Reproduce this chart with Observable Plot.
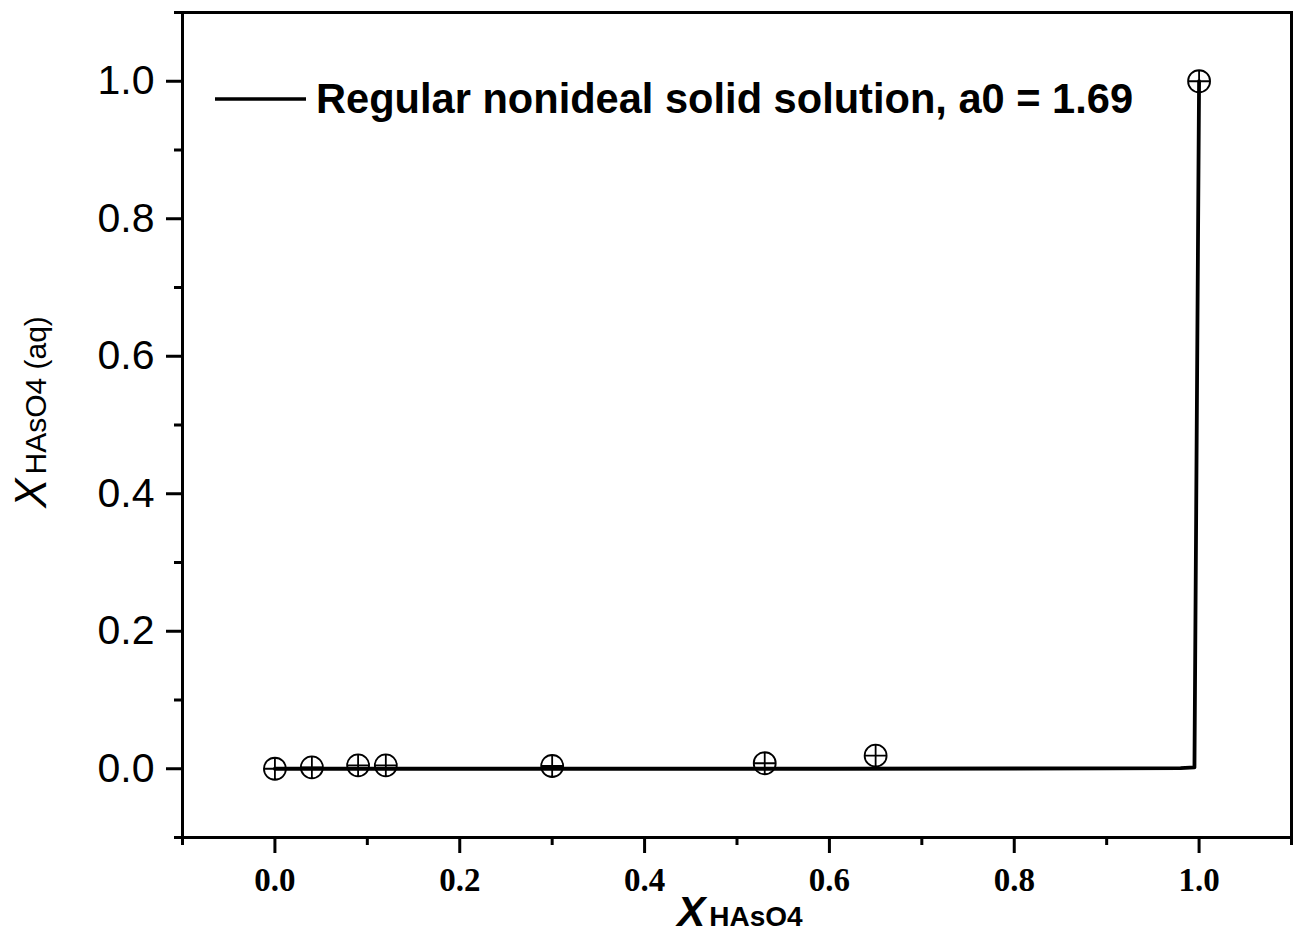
<!DOCTYPE html>
<html>
<head>
<meta charset="utf-8">
<script src="https://cdn.jsdelivr.net/npm/d3@7"></script>
<script src="https://cdn.jsdelivr.net/npm/@observablehq/plot@0.6"></script>
<style>
  html, body { margin: 0; padding: 0; background: #fff; }
  #chart { position: relative; width: 1297px; height: 934px; }
</style>
</head>
<body>
<div id="chart"></div>
<script>
// Measured points (solid vs aqueous mole fraction)
const pointX = [0, 0.04, 0.09, 0.12, 0.30, 0.53, 0.65, 1.0];
const pointY = [0, 0.002, 0.005, 0.005, 0.004, 0.008, 0.019, 1.0];

// Regular nonideal solid solution model curve
const modelX = [0, 0.3, 0.6, 0.9, 0.98, 0.995, 1.0];
const modelY = [0, 0, 0, 0.0005, 0.001, 0.002, 1.0];

const majorTicks = [0, 0.2, 0.4, 0.6, 0.8, 1.0];
const minorTicks = [-0.1, 0.1, 0.3, 0.5, 0.7, 0.9, 1.1];

const legendLabel = "Regular nonideal solid solution, a0 = 1.69";

const points = pointX.map((x, i) => ({x, y: pointY[i]}));
const model = modelX.map((x, i) => ({x, y: modelY[i]}));

// circle with a cross inside
const crossCircle = {
  draw(context, size) {
    const r = Math.sqrt(size / Math.PI);
    context.moveTo(r, 0);
    context.arc(0, 0, r, 0, 2 * Math.PI);
    context.moveTo(-r, 0);
    context.lineTo(r, 0);
    context.moveTo(0, -r);
    context.lineTo(0, r);
  }
};

const chart = Plot.plot({
  width: 1297,
  height: 934,
  marginLeft: 182,
  marginRight: 6,
  marginTop: 12,
  marginBottom: 97,
  style: {background: "white", color: "black", overflow: "visible"},
  x: {domain: [-0.1, 1.1]},
  y: {domain: [-0.1, 1.1]},
  marks: [
    Plot.axisX(majorTicks, {
      tickSize: 16, strokeWidth: 3, tickPadding: 14,
      tickFormat: d3.format(".1f"), label: null,
      fontFamily: "Liberation Serif", fontWeight: "bold", fontSize: 33
    }),
    Plot.axisX(minorTicks, {tickSize: 8, strokeWidth: 3, tickFormat: () => "", label: null}),
    Plot.axisY(majorTicks, {
      tickSize: 16, strokeWidth: 3, tickPadding: 12,
      tickFormat: d3.format(".1f"), label: null,
      fontFamily: "Liberation Sans", fontSize: 41
    }),
    Plot.axisY(minorTicks, {tickSize: 8, strokeWidth: 3, tickFormat: () => "", label: null}),
    Plot.frame({stroke: "black", strokeWidth: 3}),
    Plot.dot(points, {x: "x", y: "y", r: 11, symbol: crossCircle, stroke: "black", strokeWidth: 1.8, fill: "none"}),
    Plot.line(model, {x: "x", y: "y", stroke: "black", strokeWidth: 3.8})
  ]
});

document.getElementById("chart").appendChild(chart);

const svg = d3.select(chart);

// Legend (inside the plot)
const leg = svg.append("g");
leg.append("line")
  .attr("x1", 215).attr("x2", 306).attr("y1", 99).attr("y2", 99)
  .attr("stroke", "black").attr("stroke-width", 3.5);
leg.append("text")
  .attr("x", 316).attr("y", 113)
  .attr("text-anchor", "start")
  .attr("font-family", "Liberation Sans").attr("font-weight", "bold").attr("font-size", 41.6)
  .attr("fill", "black")
  .text(legendLabel);

// X axis label
const xl = svg.append("text")
  .attr("x", 740).attr("y", 926)
  .attr("text-anchor", "middle")
  .attr("font-family", "Liberation Sans").attr("font-weight", "bold").attr("fill", "black");
xl.append("tspan").attr("font-style", "italic").attr("font-size", 42).text("X");
xl.append("tspan").attr("font-size", 28).attr("dx", 4).text("HAsO4");

// Y axis label
const yl = svg.append("text")
  .attr("transform", "translate(46,412) rotate(-90)")
  .attr("text-anchor", "middle")
  .attr("font-family", "Liberation Sans").attr("fill", "black");
yl.append("tspan").attr("font-style", "italic").attr("font-size", 44).text("X");
yl.append("tspan").attr("font-size", 30).attr("dx", 4).text("HAsO4 (aq)");
</script>
</body>
</html>
